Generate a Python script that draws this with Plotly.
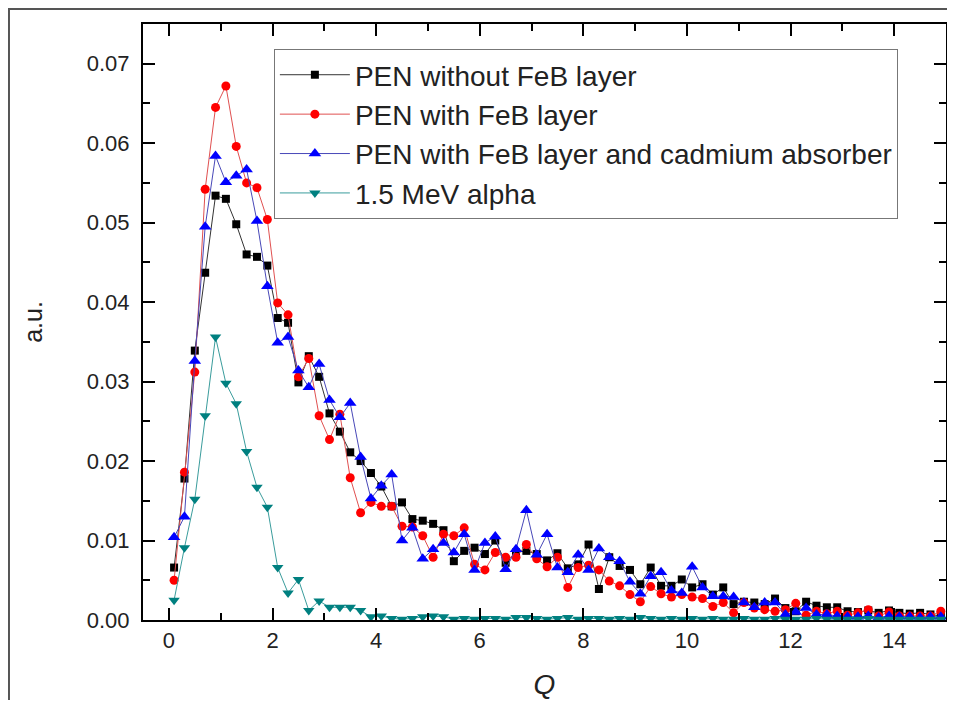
import plotly.graph_objects as go

q = [round(0.1 + 0.2 * i, 1) for i in range(75)]

pen_no_feb = [
    0.0066, 0.0178, 0.0339, 0.0437, 0.0534, 0.0530, 0.0498, 0.0460, 0.0457, 0.0446,
    0.0380, 0.0374, 0.0299, 0.0332, 0.0306, 0.0260, 0.0237, 0.0211, 0.0200, 0.0185,
    0.0168, 0.0143, 0.0148, 0.0127, 0.0125, 0.0121, 0.0113, 0.0074, 0.0087, 0.0091,
    0.0083, 0.0100, 0.0072, 0.0085, 0.0087, 0.0083, 0.0075, 0.0084, 0.0065, 0.0070,
    0.0095, 0.0039, 0.0079, 0.0068, 0.0063, 0.0045, 0.0066, 0.0043, 0.0043, 0.0051,
    0.0041, 0.0045, 0.0032, 0.0041, 0.0020, 0.0023, 0.0022, 0.0020, 0.0027, 0.0015,
    0.0011, 0.0023, 0.0018, 0.0016, 0.0016, 0.0011, 0.0010, 0.0012, 0.0009, 0.0012,
    0.0009, 0.0008, 0.0009, 0.0007, 0.0005,
]

pen_feb = [
    0.0050, 0.0186, 0.0312, 0.0542, 0.0645, 0.0672, 0.0596, 0.0550, 0.0544, 0.0504,
    0.0399, 0.0384, 0.0306, 0.0329, 0.0257, 0.0227, 0.0259, 0.0179, 0.0135, 0.0148,
    0.0143, 0.0143, 0.0118, 0.0117, 0.0106, 0.0079, 0.0108, 0.0106, 0.0116, 0.0070,
    0.0063, 0.0085, 0.0079, 0.0079, 0.0095, 0.0077, 0.0067, 0.0079, 0.0041, 0.0066,
    0.0069, 0.0063, 0.0049, 0.0043, 0.0032, 0.0023, 0.0042, 0.0033, 0.0029, 0.0032,
    0.0029, 0.0027, 0.0017, 0.0022, 0.0009, 0.0022, 0.0015, 0.0013, 0.0011, 0.0013,
    0.0021, 0.0006, 0.0011, 0.0008, 0.0011, 0.0006, 0.0009, 0.0013, 0.0005, 0.0010,
    0.0005, 0.0005, 0.0005, 0.0005, 0.0011,
]

pen_feb_cd = [
    0.0104, 0.0130, 0.0326, 0.0495, 0.0584, 0.0551, 0.0559, 0.0567, 0.0502, 0.0420,
    0.0349, 0.0356, 0.0314, 0.0293, 0.0322, 0.0277, 0.0255, 0.0273, 0.0205, 0.0153,
    0.0169, 0.0183, 0.0100, 0.0116, 0.0077, 0.0089, 0.0097, 0.0085, 0.0108, 0.0063,
    0.0097, 0.0105, 0.0064, 0.0089, 0.0138, 0.0082, 0.0108, 0.0066, 0.0060, 0.0082,
    0.0063, 0.0090, 0.0079, 0.0074, 0.0048, 0.0033, 0.0055, 0.0060, 0.0037, 0.0034,
    0.0067, 0.0041, 0.0030, 0.0030, 0.0029, 0.0022, 0.0016, 0.0022, 0.0022, 0.0007,
    0.0010, 0.0015, 0.0007, 0.0007, 0.0005, 0.0004, 0.0004, 0.0005, 0.0003, 0.0005,
    0.0004, 0.0004, 0.0003, 0.0004, 0.0004,
]

alpha_15 = [
    0.0025, 0.0091, 0.0152, 0.0257, 0.0356, 0.0298, 0.0272, 0.0212, 0.0167, 0.0142,
    0.0066, 0.0034, 0.0051, 0.0012, 0.0024, 0.0016, 0.0016, 0.0016, 0.0012, 0.0004,
    0.0005, 0.0002, 0.0001, 0.0002, 0.0004, 0.0005, 0.0004, 0.0001, 0.0002, 0.0001,
    0.0002, 0.0002, 0.0001, 0.0003, 0.0003, 0.0002, 0.0001, 0.0002, 0.0003, 0.0001,
    0.0002, 0.0002, 0.0001, 0.0002, 0.0001, 0.0003, 0.0002, 0.0001, 0.0002, 0.0001,
    0.0002, 0.0001, 0.0002, 0.0001, 0.0001, 0.0002, 0.0001, 0.0001, 0.0002, 0.0001,
    0.0001, 0.0001, 0.0002, 0.0001, 0.0001, 0.0001, 0.0001, 0.0002, 0.0001, 0.0001,
    0.0001, 0.0001, 0.0001, 0.0001, 0.0001,
]

series = [
    ("PEN without FeB layer", pen_no_feb, "#000000", "#333333", "square", 8),
    ("PEN with FeB layer", pen_feb, "#ff0000", "#e05050", "circle", 9),
    ("PEN with FeB layer and cadmium absorber", pen_feb_cd, "#0000ff", "#4848b8", "triangle-up", 11),
    ("1.5 MeV alpha", alpha_15, "#008080", "#3a9c9c", "triangle-down", 10),
]

FONT = "Liberation Sans, Arial, sans-serif"

fig = go.Figure()
for name, ys, mcol, lcol, sym, size in series:
    fig.add_trace(go.Scatter(
        x=q, y=ys, name=name, mode="lines+markers",
        line=dict(color=lcol, width=1),
        marker=dict(color=mcol, symbol=sym, size=size, line=dict(width=0)),
    ))

axis_common = dict(
    showline=True, linecolor="black", linewidth=2, mirror="allticks",
    ticks="inside", ticklen=12, tickwidth=2, tickcolor="black",
    showgrid=False, zeroline=False, automargin=False,
    tickfont=dict(family=FONT, size=22, color="#222222"),
)

fig.update_xaxes(
    range=[-0.5, 15], tick0=0, dtick=2, ticklabelstandoff=0,
    minor=dict(ticks="inside", ticklen=7, tickwidth=2, tickcolor="black", dtick=1, tick0=0),
    title=dict(text="<i>Q</i>", font=dict(family=FONT, size=28, color="#222222"), standoff=24),
    **axis_common,
)
fig.update_yaxes(
    range=[0, 0.075], tick0=0, dtick=0.01, tickformat=".2f", ticklabelstandoff=7,
    minor=dict(ticks="inside", ticklen=7, tickwidth=2, tickcolor="black", dtick=0.005, tick0=0),
    title=dict(text="a.u.", font=dict(family=FONT, size=25, color="#222222"), standoff=37),
    **axis_common,
)

# outer frame of the figure (top-left corner visible, rest beyond the page)
fig.add_shape(type="rect", xref="paper", yref="paper",
              x0=-0.1669, x1=1.05, y0=-0.2, y1=1.0252,
              line=dict(color="#555555", width=2), fillcolor="rgba(0,0,0,0)", layer="below")

# page body has an 8px margin: figure is 939x692 so it fits the 955x708 window
fig.update_layout(
    width=939, height=692,
    margin=dict(l=135, r=1, t=16, b=80, autoexpand=False),
    paper_bgcolor="white", plot_bgcolor="white",
    font=dict(family=FONT, color="#222222"),
    legend=dict(
        x=0.163, y=0.958, xanchor="left", yanchor="top",
        bgcolor="white", bordercolor="#777777", borderwidth=1,
        font=dict(family=FONT, size=28, color="#222222"),
        itemwidth=70, tracegroupgap=0,
    ),
    showlegend=True,
)

fig.write_html("out.html")
